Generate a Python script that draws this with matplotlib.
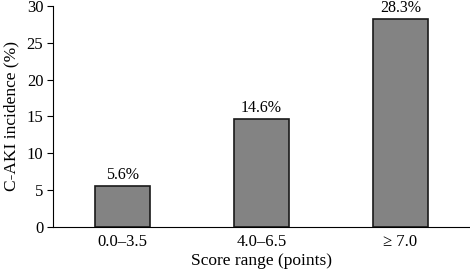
import matplotlib
matplotlib.use('Agg')
import matplotlib.pyplot as plt

# data
categories = ['0.0\u20133.5', '4.0\u20136.5', '\u2265 7.0']
incidence = [5.6, 14.6, 28.3]
labels = ['5.6%', '14.6%', '28.3%']

plt.rcParams['font.family'] = ['Liberation Serif', 'DejaVu Serif']
plt.rcParams['font.size'] = 12

fig = plt.figure(figsize=(4.70, 2.71), dpi=100)
ax = fig.add_axes([0.1128, 0.1624, 0.8872, 0.8155])

x = range(len(categories))
bars = ax.bar(x, incidence, width=0.4, color='#838383', edgecolor='#1a1a1a',
              linewidth=1.2)
for b, lab in zip(bars, labels):
    ax.text(b.get_x() + b.get_width() / 2, b.get_height() + 0.4, lab,
            ha='center', va='bottom', fontsize=11.5)

ax.set_xlim(-0.5, 2.5)
ax.set_ylim(0, 30)
ax.set_yticks([0, 5, 10, 15, 20, 25, 30])
ax.set_xticks(list(x))
ax.set_xticklabels(categories)
ax.tick_params(axis='x', length=0, pad=5)
ax.tick_params(axis='y', length=4, width=0.8, pad=3)
for s in ['top', 'right']:
    ax.spines[s].set_visible(False)
for s in ['left', 'bottom']:
    ax.spines[s].set_linewidth(0.8)
ax.set_ylabel('C-AKI incidence (%)', fontsize=12.5, labelpad=5)
ax.set_xlabel('Score range (points)', fontsize=12.5, labelpad=2)

fig.savefig('out.png', dpi=100)
